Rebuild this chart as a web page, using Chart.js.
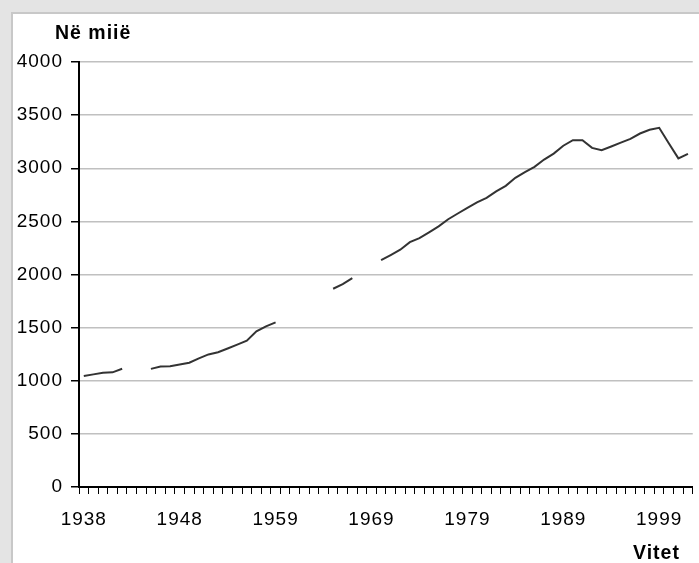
<!DOCTYPE html>
<html>
<head>
<meta charset="utf-8">
<script src="https://cdn.jsdelivr.net/npm/chart.js@4/dist/chart.umd.min.js"></script>
<style>
  html, body { margin: 0; padding: 0; background: #e4e4e4; overflow: hidden; }
  #frame { position: absolute; left: 11px; top: 12px; width: 720px; height: 600px;
           background: #fff; border: 2px solid #c8c8c8; }
  #wrap { position: absolute; left: 0; top: 0; width: 699px; height: 563px; }
</style>
</head>
<body>
<div id="frame"></div>
<div id="wrap"><canvas id="myChart"></canvas></div>
<script>
// years on the axis (1949 is not in the series)
var years = ['1938', '1939', '1940', '1941', '1942', '1943', '1944', '1945', '1946', '1947', '1948',
  '1950', '1951', '1952', '1953', '1954', '1955', '1956', '1957', '1958', '1959',
  '1960', '1961', '1962', '1963', '1964', '1965', '1966', '1967', '1968', '1969',
  '1970', '1971', '1972', '1973', '1974', '1975', '1976', '1977', '1978', '1979',
  '1980', '1981', '1982', '1983', '1984', '1985', '1986', '1987', '1988', '1989',
  '1990', '1991', '1992', '1993', '1994', '1995', '1996', '1997', '1998', '1999',
  '2000', '2001', '2002'];

// population in thousands, null where the line breaks
var population = [1044, 1060, 1076, 1079, 1113, null, null, 1112, 1135, 1136, 1152,
  1170, 1211, 1248, 1268, 1303, 1340, 1377, 1465, 1512, 1549,
  null, null, null, null, null, 1866, 1909, 1966, null, null,
  2135, 2183, 2233, 2304, 2343, 2397, 2453, 2520, 2574, 2626,
  2679, 2721, 2783, 2834, 2910, 2964, 3013, 3082, 3138, 3212,
  3264, 3264, 3192, 3170, 3205, 3241, 3277, 3327, 3362, 3381,
  3236, 3093, 3136];

var yTicks = [0, 500, 1000, 1500, 2000, 2500, 3000, 3500, 4000];
var yTitle = 'Në miië';
var xTitle = 'Vitet';

var FONT = "'Liberation Sans', Arial, sans-serif";

// spread glyphs a little, the original text is slightly wide
var spacing = {
  id: 'spacing',
  beforeLayout: function (chart) { chart.ctx.letterSpacing = '1px'; },
  beforeDraw: function (chart) { chart.ctx.letterSpacing = '1px'; }
};

// the two bold captions
var captions = {
  id: 'captions',
  afterDraw: function (chart) {
    var ctx = chart.ctx;
    ctx.save();
    ctx.letterSpacing = '1px';
    ctx.fillStyle = '#000';
    ctx.font = 'bold 19.5px ' + FONT;
    ctx.textBaseline = 'alphabetic';
    ctx.textAlign = 'left';
    ctx.fillText(yTitle, 55, 39);
    ctx.fillText(xTitle, 633, 559);
    ctx.restore();
  }
};

var ctx = document.getElementById('myChart').getContext('2d');
var chart = new Chart(ctx, {
  type: 'line',
  data: {
    labels: years,
    datasets: [{
      label: 'Popullsia',
      data: population,
      borderColor: '#333333',
      borderWidth: 2,
      pointRadius: 0,
      tension: 0,
      spanGaps: false
    }]
  },
  options: {
    responsive: true,
    maintainAspectRatio: false,
    animation: false,
    layout: { padding: { left: 0, right: 6, top: 62, bottom: 0 } },
    plugins: {
      legend: { display: false },
      tooltip: { enabled: false }
    },
    scales: {
      x: {
        offset: true,
        afterFit: function (s) { s.height = 76; },
        border: { display: true, color: '#000', width: 2 },
        grid: {
          offset: true,
          drawOnChartArea: false,
          drawTicks: true,
          tickLength: 7,
          tickColor: '#000',
          tickWidth: 1
        },
        ticks: {
          autoSkip: false,
          maxRotation: 0,
          minRotation: 0,
          padding: 11,
          color: '#000',
          font: { family: FONT, size: 19, lineHeight: 1.55 },
          callback: function (v, i) { return i % 10 === 0 ? years[i] : ''; }
        }
      },
      y: {
        min: 0,
        max: 4000,
        afterFit: function (s) { s.width = 79; },
        afterBuildTicks: function (s) { s.ticks = yTicks.map(function (v) { return { value: v }; }); },
        border: { display: true, color: '#000', width: 2 },
        grid: {
          color: '#c0c0c0',
          lineWidth: 1.5,
          tickLength: 8,
          tickColor: '#000',
          tickWidth: 1.5
        },
        ticks: {
          padding: 8,
          color: '#000',
          font: { family: FONT, size: 19 },
          callback: function (v) { return String(v); }
        }
      }
    }
  },
  plugins: [spacing, captions]
});
</script>
</body>
</html>
